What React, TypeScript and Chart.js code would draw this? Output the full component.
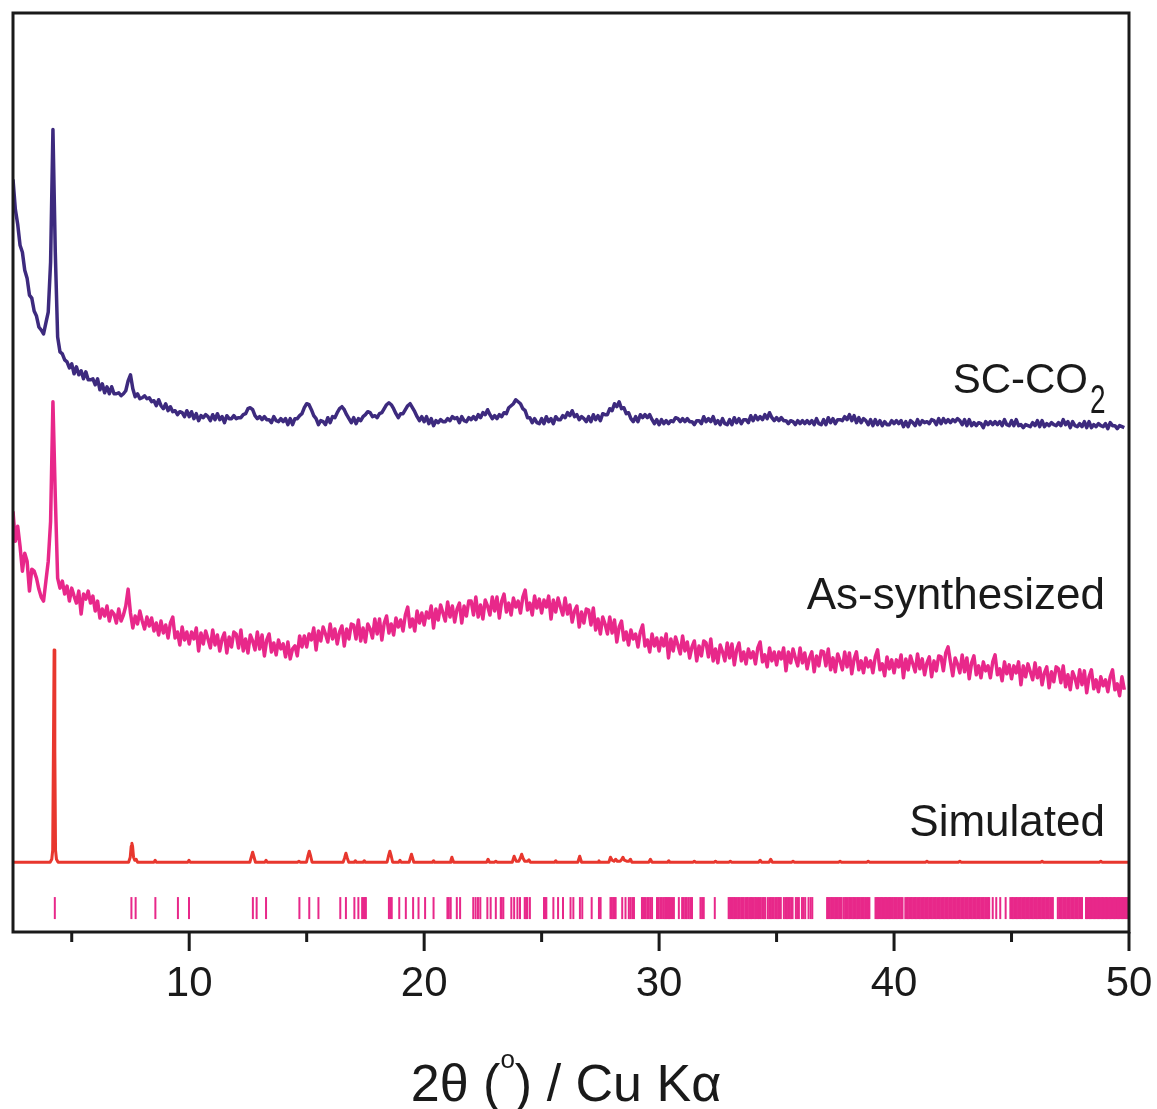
import React, { useEffect, useRef } from "react";
import { Chart, registerables } from "chart.js";

Chart.register(...registerables);

// Powder patterns, Cu Kα, 2θ scan from 2.5° in 0.1° steps (arbitrary intensity units, curves offset)
const scanStart = 2.5;
const scanStep = 0.1;

const scCo2Counts = [
  823, 793, 778, 757, 750,
  732, 724, 707, 704, 691, 686, 675, 672, 668, 679,
  690, 740, 873, 750, 665, 650, 648, 642, 640, 634,
  638, 628, 635, 627, 631, 623, 630, 622, 622, 623,
  617, 623, 612, 618, 609, 615, 608, 615, 608, 608,
  609, 606, 608, 611, 621, 627, 613, 605, 608, 603,
  604, 606, 603, 604, 600, 601, 596, 602, 596, 593,
  598, 591, 595, 590, 591, 587, 590, 589, 585, 591,
  585, 590, 583, 588, 581, 586, 584, 587, 585, 581,
  587, 582, 588, 582, 585, 579, 586, 583, 583, 586,
  583, 584, 584, 587, 588, 593, 594, 592, 586, 583,
  585, 582, 585, 582, 582, 579, 585, 581, 580, 583,
  580, 583, 577, 583, 577, 583, 583, 586, 588, 594,
  598, 597, 592, 586, 583, 577, 581, 580, 577, 584,
  579, 585, 584, 589, 593, 595, 592, 587, 583, 579,
  584, 578, 583, 581, 585, 587, 590, 589, 585, 586,
  584, 588, 589, 593, 597, 599, 597, 593, 588, 584,
  588, 588, 592, 596, 598, 594, 590, 585, 581, 585,
  580, 585, 578, 583, 576, 581, 579, 582, 580, 580,
  583, 581, 585, 583, 584, 579, 585, 581, 580, 584,
  582, 585, 582, 587, 584, 589, 587, 592, 587, 583,
  586, 583, 587, 585, 589, 588, 594, 596, 598, 602,
  600, 598, 593, 591, 584, 584, 579, 583, 579, 578,
  583, 578, 585, 580, 583, 578, 585, 582, 582, 586,
  584, 589, 586, 591, 585, 587, 582, 585, 583, 580,
  585, 580, 587, 582, 586, 581, 588, 587, 587, 593,
  591, 598, 595, 600, 593, 594, 588, 589, 583, 580,
  585, 580, 587, 584, 587, 584, 587, 582, 578, 582,
  577, 582, 578, 581, 578, 581, 580, 584, 583, 580,
  583, 580, 583, 580, 580, 577, 581, 581, 578, 585,
  580, 583, 580, 585, 578, 581, 577, 583, 578, 577,
  582, 577, 584, 579, 583, 578, 582, 582, 579, 586,
  581, 586, 582, 585, 582, 587, 583, 589, 584, 581,
  584, 581, 584, 581, 581, 578, 581, 580, 577, 581,
  578, 581, 578, 581, 578, 581, 577, 583, 578, 577,
  582, 577, 584, 579, 583, 578, 582, 582, 581, 585,
  582, 587, 581, 586, 579, 584, 579, 583, 581, 577,
  582, 576, 582, 577, 581, 576, 580, 577, 577, 581,
  578, 581, 578, 581, 575, 580, 575, 581, 579, 576,
  582, 577, 581, 579, 580, 578, 582, 581, 577, 583,
  578, 583, 579, 582, 579, 582, 580, 583, 581, 577,
  582, 576, 582, 576, 579, 576, 579, 578, 574, 580,
  577, 580, 577, 580, 577, 580, 576, 582, 577, 576,
  581, 576, 582, 576, 577, 574, 577, 576, 575, 579,
  576, 581, 575, 581, 575, 578, 576, 579, 577, 576,
  579, 576, 582, 577, 580, 574, 580, 576, 575, 578,
  575, 580, 574, 580, 574, 577, 575, 578, 576, 575,
  578, 573, 579, 576, 576, 573, 576, 575, 574,
];

const asSynthesizedCounts = [
  490, 460, 475, 455, 430,
  448, 440, 410, 432, 430, 423, 412, 404, 400, 420,
  440, 480, 600, 505, 423, 413, 420, 407, 415, 400,
  413, 405, 398, 410, 387, 407, 402, 410, 398, 405,
  390, 400, 383, 392, 385, 395, 380, 390, 387, 378,
  392, 380, 386, 395, 412, 388, 373, 385, 377, 390,
  380, 372, 384, 375, 383, 370, 378, 366, 380, 368,
  376, 363, 378, 384, 363, 369, 356, 374, 361, 369,
  357, 369, 362, 373, 350, 368, 357, 370, 362, 353,
  371, 356, 366, 350, 362, 368, 348, 364, 354, 369,
  367, 353, 371, 350, 362, 348, 366, 360, 351, 369,
  352, 366, 345, 361, 367, 349, 358, 346, 361, 352,
  357, 344, 359, 342, 352, 355, 345, 365, 354, 365,
  354, 367, 361, 373, 351, 370, 360, 374, 367, 359,
  377, 362, 372, 357, 369, 375, 355, 372, 362, 377,
  376, 362, 381, 360, 373, 359, 377, 372, 363, 382,
  367, 382, 361, 378, 385, 368, 377, 366, 383, 374,
  381, 370, 386, 394, 374, 382, 370, 390, 378, 388,
  376, 389, 383, 395, 373, 392, 381, 396, 388, 380,
  399, 384, 395, 379, 392, 398, 378, 395, 385, 400,
  400, 386, 404, 384, 396, 382, 401, 395, 386, 404,
  390, 404, 383, 400, 407, 389, 398, 386, 403, 394,
  400, 388, 404, 411, 391, 398, 386, 405, 393, 402,
  388, 401, 394, 405, 382, 401, 389, 403, 394, 386,
  403, 387, 396, 379, 390, 395, 374, 389, 378, 392,
  391, 376, 393, 371, 382, 367, 384, 377, 367, 384,
  368, 381, 359, 374, 380, 361, 369, 356, 371, 362,
  367, 354, 369, 376, 355, 361, 349, 367, 355, 363,
  350, 363, 355, 367, 343, 362, 350, 364, 356, 347,
  365, 350, 359, 343, 354, 360, 340, 355, 345, 360,
  358, 344, 362, 340, 352, 338, 356, 349, 340, 358,
  343, 357, 336, 351, 358, 340, 349, 337, 352, 343,
  349, 337, 353, 359, 339, 346, 334, 353, 340, 349,
  336, 349, 342, 353, 330, 349, 338, 352, 343, 335,
  353, 338, 348, 332, 343, 349, 329, 345, 335, 350,
  349, 335, 352, 331, 343, 329, 347, 340, 331, 349,
  334, 348, 327, 342, 349, 331, 340, 328, 343, 334,
  340, 328, 344, 351, 331, 337, 325, 344, 332, 341,
  328, 341, 334, 346, 323, 342, 331, 345, 337, 329,
  347, 332, 342, 326, 338, 344, 324, 340, 330, 345,
  344, 330, 348, 354, 339, 325, 343, 337, 328, 346,
  329, 343, 322, 338, 345, 326, 335, 323, 339, 330,
  335, 323, 339, 346, 326, 332, 320, 339, 327, 336,
  322, 335, 328, 339, 316, 335, 324, 337, 329, 321,
  338, 323, 333, 316, 328, 334, 313, 329, 319, 334,
  332, 318, 335, 314, 326, 311, 329, 323, 313, 331,
  316, 330, 308, 324, 331, 312, 321, 309, 324, 315,
  321, 309, 324, 331, 311, 317, 305, 324, 311,
];

// Calculated pattern from the single-crystal structure
const simulatedAngles = [
  2.5, 4.08, 4.15, 4.19, 4.22, 4.25, 4.28, 4.31, 4.35, 4.42,
  7.42, 7.49, 7.53, 7.56, 7.59, 7.63, 7.68, 7.74, 7.8,
  8.5, 8.55, 8.6,
  9.94, 9.99, 10.04,
  12.58, 12.64, 12.7, 12.76, 12.82,
  13.22, 13.27, 13.32,
  14.62, 14.67, 14.72,
  14.99, 15.05, 15.11, 15.17, 15.23,
  16.55, 16.61, 16.67, 16.73, 16.79,
  17.02, 17.07, 17.12,
  17.4, 17.45, 17.5,
  18.42, 18.48, 18.54, 18.6, 18.66,
  18.92, 18.97, 19.02,
  19.36, 19.41, 19.46, 19.51, 19.56,
  20.35, 20.4, 20.45,
  21.1, 21.14, 21.18, 21.22, 21.26,
  22.66, 22.72, 22.78,
  23.0, 23.05, 23.1,
  23.75, 23.83, 23.92, 24.03, 24.09, 24.15, 24.21, 24.28, 24.4, 24.46, 24.52,
  25.55, 25.6, 25.65,
  26.54, 26.58, 26.62, 26.66, 26.7,
  27.4, 27.44, 27.48,
  27.86, 27.93, 28.0, 28.08, 28.15, 28.22, 28.34, 28.4, 28.46, 28.52, 28.62, 28.72, 28.78, 28.84,
  29.56, 29.63, 29.7,
  30.36, 30.41, 30.46,
  31.45, 31.5, 31.55,
  32.35, 32.4, 32.45,
  32.98, 33.03, 33.08,
  34.24, 34.3, 34.36, 34.68, 34.75, 34.82,
  35.65, 35.7, 35.75,
  37.65, 37.7, 37.75,
  38.85, 38.9, 38.95,
  41.35, 41.4, 41.45,
  42.75, 42.8, 42.85,
  46.25, 46.3, 46.35,
  48.75, 48.8, 48.85,
  50,
];
const simulatedCounts = [
  138, 138, 141, 150, 250, 351, 250, 150, 141, 138,
  138, 143, 154, 157, 154, 143, 140, 141, 138,
  138, 140, 138,
  138, 140, 138,
  138, 143, 148, 143, 138,
  138, 140, 138,
  138, 139, 138,
  138, 144, 149, 144, 138,
  138, 142, 147, 142, 138,
  138, 139.5, 138,
  138, 139.5, 138,
  138, 144, 149, 144, 138,
  138, 140, 138,
  138, 142, 146, 142, 138,
  138, 139.5, 138,
  138, 140, 143, 140, 138,
  138, 141, 138,
  138, 139, 138,
  138, 144, 139, 139, 142, 146, 142, 139, 139, 140.5, 138,
  138, 139.5, 138,
  138, 141, 144, 141, 138,
  138, 139.5, 138,
  138, 143, 140, 139, 141, 139, 139, 140.5, 143, 140, 139, 139, 141, 138,
  138, 141, 138,
  138, 139.5, 138,
  138, 139, 138,
  138, 139, 138,
  138, 139, 138,
  138, 140, 138, 138, 141, 138,
  138, 139, 138,
  138, 139, 138,
  138, 139, 138,
  138, 139, 138,
  138, 139, 138,
  138, 139, 138,
  138, 139, 138,
  138,
];

// Bragg reflection positions of the calculated cell
const reflectionAngles = [
  4.28, 7.54, 7.72, 8.56, 9.52, 9.99, 12.71, 12.87, 13.27, 14.69,
  15.11, 15.5, 16.43, 16.67, 17.03, 17.2, 17.36, 17.42, 17.48, 17.52,
  18.5, 18.56, 18.62, 18.94, 19.22, 19.53, 19.76, 20.04, 20.4, 20.99,
  21.05, 21.13, 21.39, 21.53, 22.09, 22.19, 22.29, 22.39, 22.69, 22.83,
  23.05, 23.26, 23.3, 23.37, 23.71, 23.83, 23.97, 24.08, 24.28, 24.34,
  24.39, 24.5, 25.1, 25.15, 25.2, 25.5, 25.7, 25.91, 26.23, 26.35,
  26.63, 26.73, 27.13, 27.44, 27.51, 27.93, 27.99, 28.05, 28.1, 28.15,
  28.43, 28.57, 28.71, 28.78, 28.86, 28.93, 29.27, 29.33, 29.4, 29.49,
  29.55, 29.62, 29.7, 29.91, 29.98, 30.05, 30.12, 30.2, 30.26, 30.31,
  30.36, 30.42, 30.48, 30.55, 30.63, 30.84, 30.98, 31.05, 31.12, 31.18,
  31.26, 31.33, 31.4, 31.76, 31.83, 31.9, 32.37,
  32.96, 33.02, 33.08, 33.13, 33.19, 33.24, 33.31, 33.37, 33.42, 33.49,
  33.55, 33.6, 33.67, 33.73, 33.78, 33.85, 33.91, 33.96, 34.03, 34.09,
  34.14, 34.21, 34.27, 34.33, 34.4, 34.46, 34.52, 34.63, 34.7, 34.76,
  34.82, 34.88, 34.95, 35.01, 35.07, 35.12, 35.18, 35.31, 35.38, 35.44,
  35.5, 35.56, 35.62, 35.68, 35.82, 35.88, 35.95, 36.08, 36.15, 36.22,
  36.36, 36.45, 36.52,
  37.15, 37.2, 37.26, 37.32, 37.37, 37.43, 37.49, 37.55, 37.6, 37.66,
  37.72, 37.77, 37.86, 37.92, 37.97, 38.03, 38.09, 38.14, 38.2, 38.26,
  38.31, 38.37, 38.43, 38.48, 38.54, 38.6, 38.66, 38.71, 38.77, 38.83,
  38.89, 38.95, 39.21, 39.27, 39.32, 39.38, 39.44, 39.49, 39.55, 39.61,
  39.66, 39.72, 39.78, 39.83, 39.89, 39.95, 40.01, 40.06, 40.12, 40.18,
  40.24, 40.3, 40.36, 40.48, 40.54, 40.59, 40.65, 40.71, 40.76, 40.82,
  40.88, 40.93, 40.99, 41.05, 41.1, 41.16, 41.22, 41.27, 41.33, 41.39,
  41.44, 41.5, 41.56, 41.61, 41.67, 41.73, 41.78, 41.84, 41.9, 41.95,
  42.01, 42.07, 42.12, 42.18, 42.24, 42.29, 42.35, 42.41, 42.46, 42.52,
  42.58, 42.63, 42.69, 42.75, 42.8, 42.86, 42.92, 42.97, 43.03, 43.09,
  43.14, 43.2, 43.26, 43.31, 43.37, 43.43, 43.48, 43.54, 43.6, 43.65,
  43.71, 43.77, 43.82, 43.88, 43.94, 44.0, 44.05, 44.2, 44.35, 44.52,
  44.75, 44.95, 45.01, 45.06, 45.12, 45.18, 45.23, 45.29, 45.35, 45.4,
  45.46, 45.52, 45.57, 45.63, 45.69, 45.74, 45.8, 45.86, 45.91, 45.97,
  46.03, 46.08, 46.14, 46.2, 46.25, 46.31, 46.37, 46.42, 46.48, 46.54,
  46.59, 46.65, 46.71, 46.76, 46.97, 47.03, 47.09, 47.14, 47.2, 47.26,
  47.31, 47.37, 47.43, 47.48, 47.54, 47.6, 47.65, 47.71, 47.77, 47.82,
  47.88, 47.94, 48.0, 48.17, 48.22, 48.28, 48.34, 48.39, 48.45, 48.51,
  48.56, 48.62, 48.68, 48.73, 48.79, 48.85, 48.9, 48.96, 49.02, 49.07,
  49.13, 49.19, 49.24, 49.3, 49.36, 49.41, 49.47, 49.53, 49.58, 49.64,
  49.7, 49.75, 49.81, 49.87, 49.92, 49.98,
];
const reflectionMarkerLevel = 92;

const majorTicks = [10, 20, 30, 40, 50];
const minorTicks = [5, 15, 25, 35, 45];

const INK = "#1a1a1a";
const PURPLE = "#3d2a7e";
const PINK = "#e8288a";
const RED = "#e8372e";
const FONT = "'Liberation Sans', Arial, Helvetica, sans-serif";

const toPoints = (counts: number[]) =>
  counts.map((y, i) => ({ x: +(scanStart + i * scanStep).toFixed(2), y }));

const annotations = {
  id: "xrdAnnotations",
  afterDatasetsDraw(chart: any) {
    const { ctx, chartArea: a, scales } = chart;
    const xs = scales.x;
    ctx.save();

    // frame
    ctx.strokeStyle = INK;
    ctx.lineWidth = 3;
    ctx.strokeRect(a.left, a.top, a.right - a.left, a.bottom - a.top);

    // outward tick marks
    ctx.beginPath();
    for (const v of majorTicks) {
      const px = xs.getPixelForValue(v);
      ctx.moveTo(px, a.bottom);
      ctx.lineTo(px, a.bottom + 19);
    }
    for (const v of minorTicks) {
      const px = xs.getPixelForValue(v);
      ctx.moveTo(px, a.bottom);
      ctx.lineTo(px, a.bottom + 10);
    }
    ctx.stroke();

    // curve names
    ctx.fillStyle = INK;
    ctx.textBaseline = "alphabetic";
    ctx.textAlign = "right";
    ctx.font = `42px ${FONT}`;
    ctx.fillText("SC-CO", 1088, 393);
    ctx.save();
    ctx.translate(1090, 413);
    ctx.scale(0.7, 1);
    ctx.textAlign = "left";
    ctx.font = `40px ${FONT}`;
    ctx.fillText("2", 0, 0);
    ctx.restore();

    ctx.font = `44px ${FONT}`;
    ctx.fillText("As-synthesized", 1105, 609);
    ctx.fillText("Simulated", 1105, 836);

    // axis title: 2θ (°) / Cu Kα
    const parts = [
      { t: "2θ (", size: 52, dy: 0 },
      { t: "o", size: 26, dy: -33 },
      { t: ") / Cu Kα", size: 52, dy: 0 },
    ];
    let total = 0;
    for (const p of parts) {
      ctx.font = `${p.size}px ${FONT}`;
      total += ctx.measureText(p.t).width;
    }
    let x = 566 - total / 2;
    ctx.textAlign = "left";
    for (const p of parts) {
      ctx.font = `${p.size}px ${FONT}`;
      ctx.fillText(p.t, x, 1101 + p.dy);
      x += ctx.measureText(p.t).width;
    }
    ctx.restore();
  },
};

export default function App() {
  const canvasRef = useRef<HTMLCanvasElement | null>(null);

  useEffect(() => {
    const canvas = canvasRef.current;
    if (!canvas) return;
    const chart = new Chart(canvas, {
      type: "line",
      data: {
        datasets: [
          {
            label: "SC-CO2",
            data: toPoints(scCo2Counts),
            borderColor: PURPLE,
            borderWidth: 3.5,
            pointRadius: 0,
            borderJoinStyle: "round",
            tension: 0,
          },
          {
            label: "As-synthesized",
            data: toPoints(asSynthesizedCounts),
            borderColor: PINK,
            borderWidth: 3.5,
            pointRadius: 0,
            borderJoinStyle: "round",
            tension: 0,
          },
          {
            label: "Simulated",
            data: simulatedAngles.map((x, i) => ({ x, y: simulatedCounts[i] })),
            borderColor: RED,
            borderWidth: 3,
            pointRadius: 0,
            borderJoinStyle: "round",
            tension: 0,
          },
          {
            type: "scatter",
            label: "Reflections",
            data: reflectionAngles.map((x) => ({ x, y: reflectionMarkerLevel })),
            showLine: false,
            pointStyle: "line",
            pointRotation: 90,
            pointRadius: 11,
            pointBorderWidth: 2,
            borderColor: PINK,
            pointBorderColor: PINK,
            backgroundColor: PINK,
          } as any,
        ],
      },
      options: {
        animation: false,
        responsive: false,
        devicePixelRatio: 1,
        events: [],
        layout: { padding: { left: 11.5, top: 10.5, right: 28, bottom: 0 } },
        plugins: {
          legend: { display: false },
          tooltip: { enabled: false },
        },
        scales: {
          x: {
            type: "linear",
            min: 2.5,
            max: 50,
            afterBuildTicks: (scale: any) => {
              scale.ticks = majorTicks.map((value) => ({ value }));
            },
            afterFit: (scale: any) => {
              scale.height = 1109 - 932;
              scale.paddingLeft = 0;
              scale.paddingRight = 0;
            },
            ticks: {
              padding: 27,
              color: INK,
              autoSkip: false,
              maxRotation: 0,
              font: { family: FONT, size: 42 },
            },
            grid: { display: false, drawTicks: false },
            border: { display: false },
          },
          y: {
            type: "linear",
            display: false,
            min: 68,
            max: 990,
          },
        },
      },
      plugins: [annotations],
    });
    return () => chart.destroy();
  }, []);

  return (
    <div
      style={{
        position: "absolute",
        left: 0,
        top: 0,
        width: 1157,
        height: 1109,
        background: "#ffffff",
      }}
    >
      <canvas ref={canvasRef} width={1157} height={1109} style={{ display: "block" }} />
    </div>
  );
}
